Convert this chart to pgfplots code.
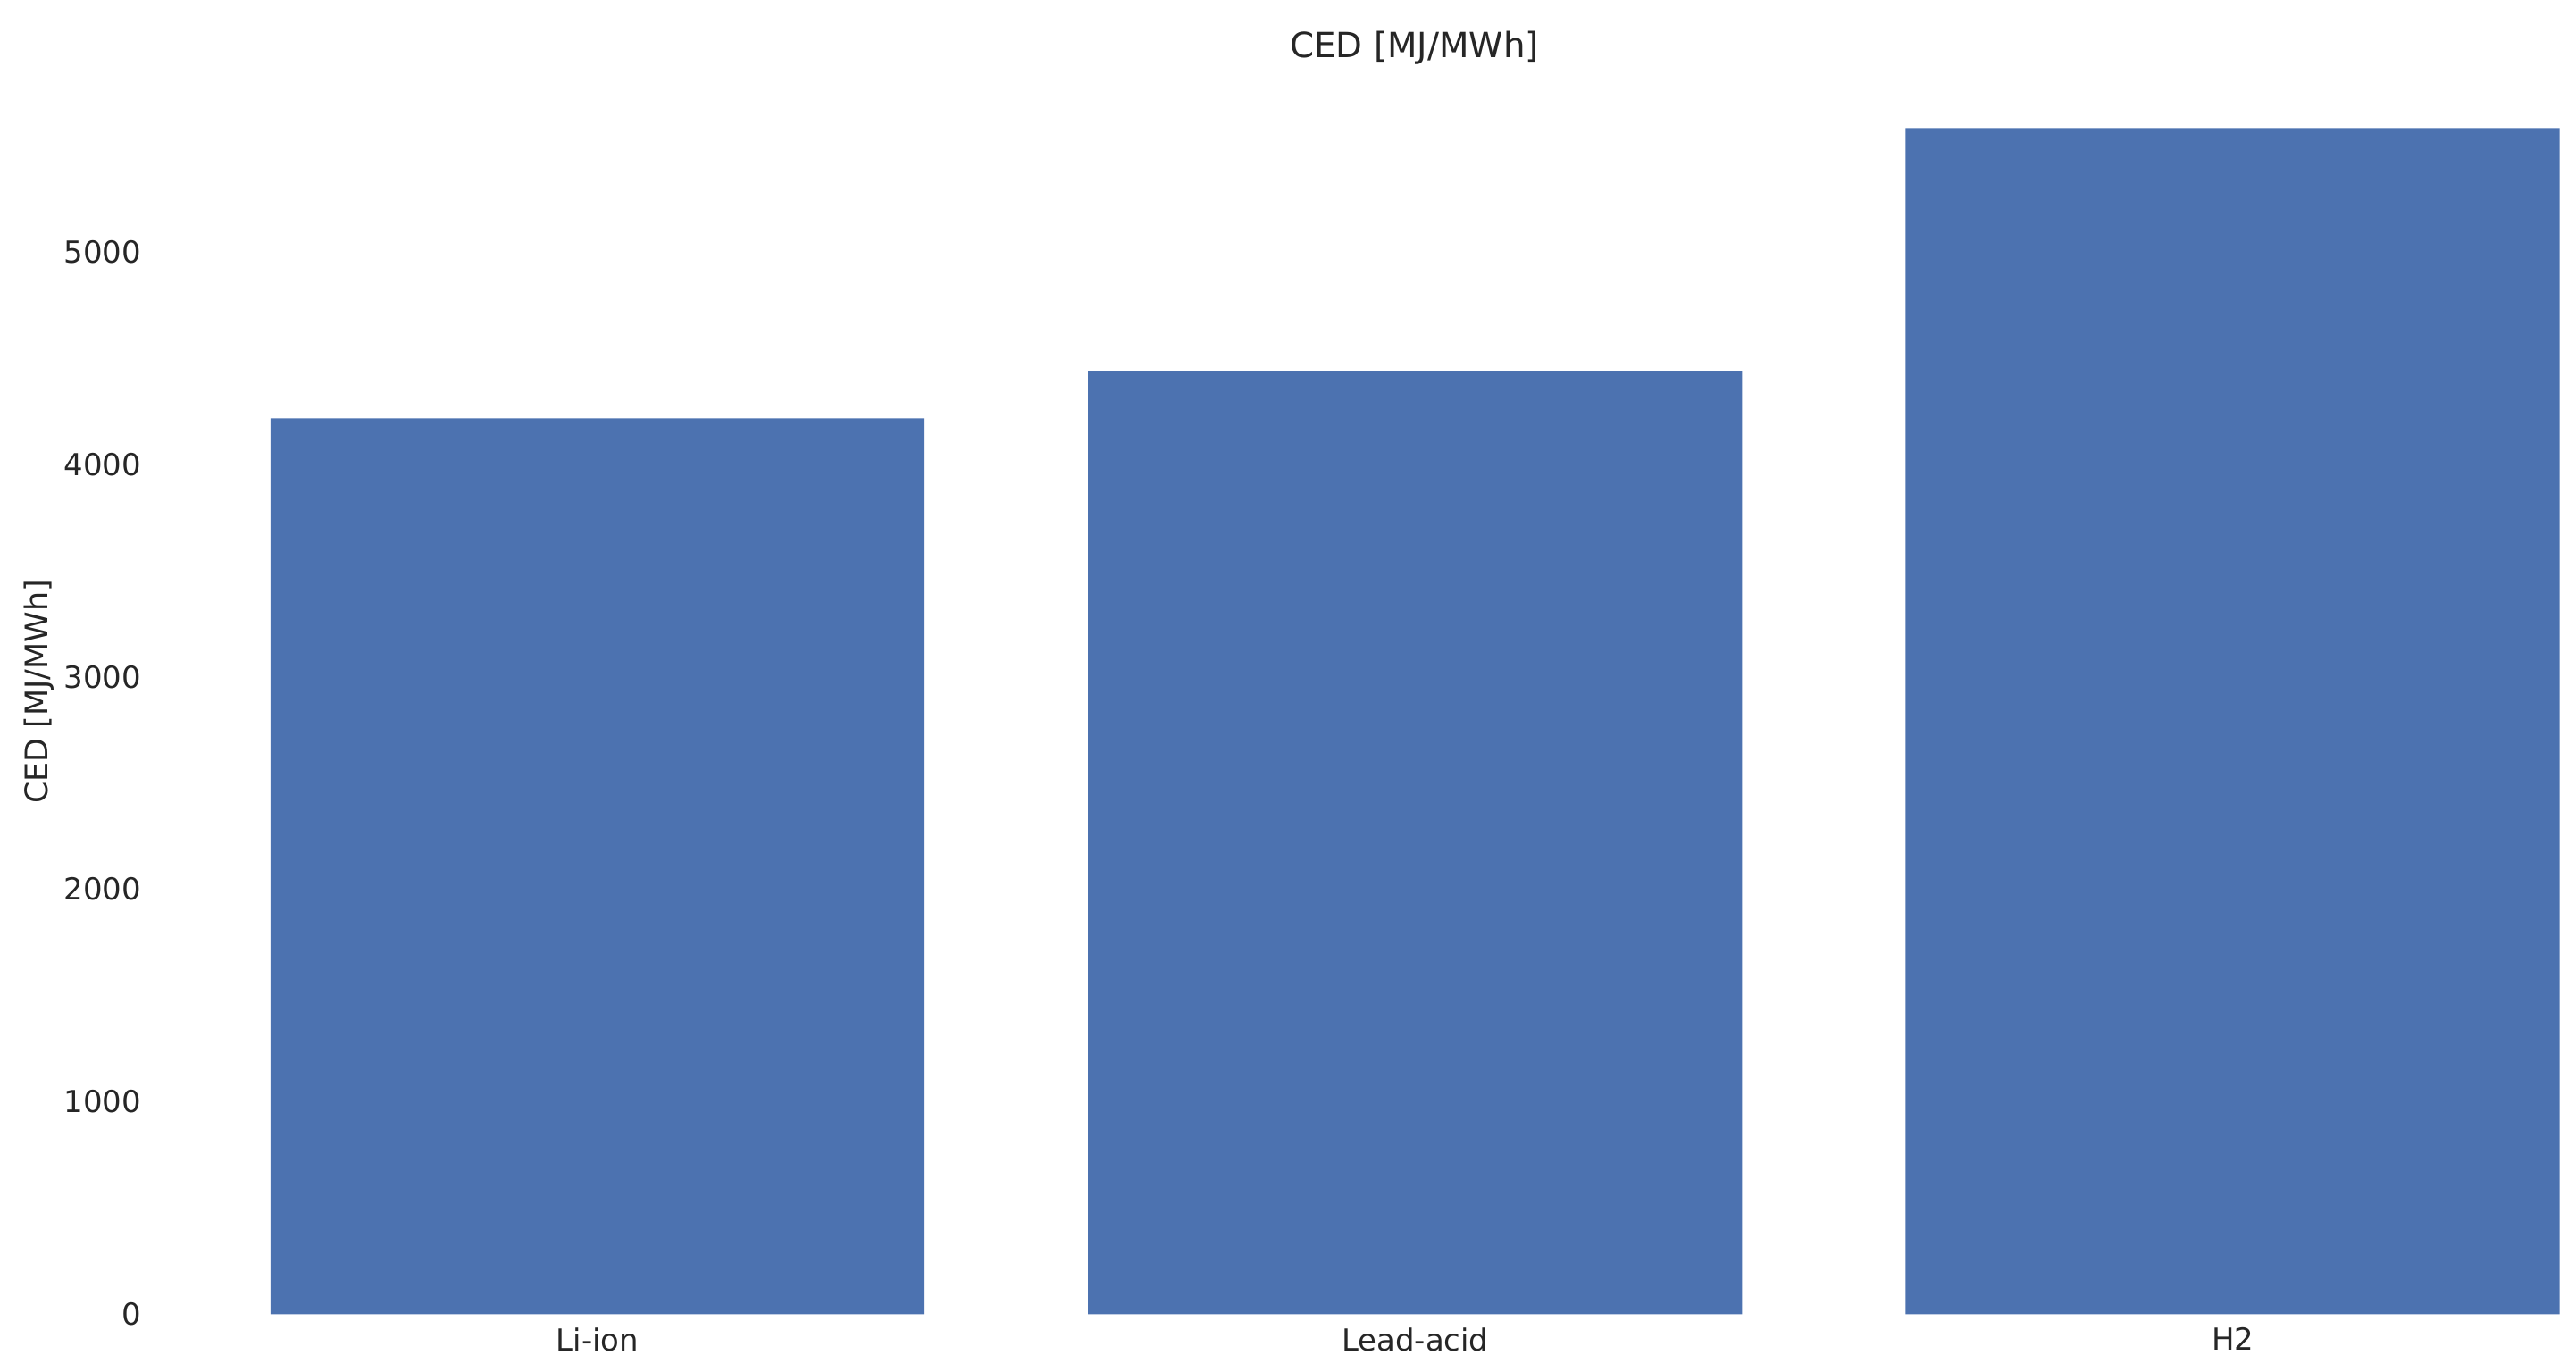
\documentclass[border=0pt]{standalone}
\usepackage{pgfplots}
\pgfplotsset{compat=1.18}
\usepackage{fontspec}
\setmainfont{DejaVu Sans}
\definecolor{barblue}{HTML}{4C72B0}
\definecolor{txt}{HTML}{262626}
\begin{document}
\begin{tikzpicture}[x=0.2mm,y=0.2mm]
\begin{axis}[
  at={(95*0.2mm,35*0.2mm)}, anchor=south west,
  scale only axis,
  width=1473*0.2mm, height=758*0.2mm,
  xmin=-0.54, xmax=2.42,
  ymin=0, ymax=5860,
  xtick=data,
  xticklabels={Li-ion,Lead-acid,H2},
  ytick={0,1000,2000,3000,4000,5000},
  axis line style={draw=none},
  major tick length=0pt,
  tick style={draw=none},
  font=\fontsize{10.5}{12}\selectfont,
  tick label style={text=txt},
  /pgf/number format/assume math mode=true,
  /pgf/number format/1000 sep={},
  yticklabel style={xshift=-0.6mm},
  xticklabel style={yshift=-0.4mm},
  title={CED [MJ/MWh]},
  title style={at={(0.52,1)}, anchor=south, yshift=-2.8mm, text=txt, font=\fontsize{12}{14}\selectfont},
  ylabel={CED [MJ/MWh]},
  ylabel style={text=txt, at={(rel axis cs:-0.0482,0.5)}, anchor=center, font=\fontsize{10.8}{13}\selectfont},
  ybar, bar width=0.8,
]
\addplot[fill=barblue, draw=none] coordinates {(0,4216) (1,4440) (2,5582)};
\end{axis}
\pgfresetboundingbox
\path[use as bounding box] (0,0) rectangle (1568,835);
\end{tikzpicture}
\end{document}
